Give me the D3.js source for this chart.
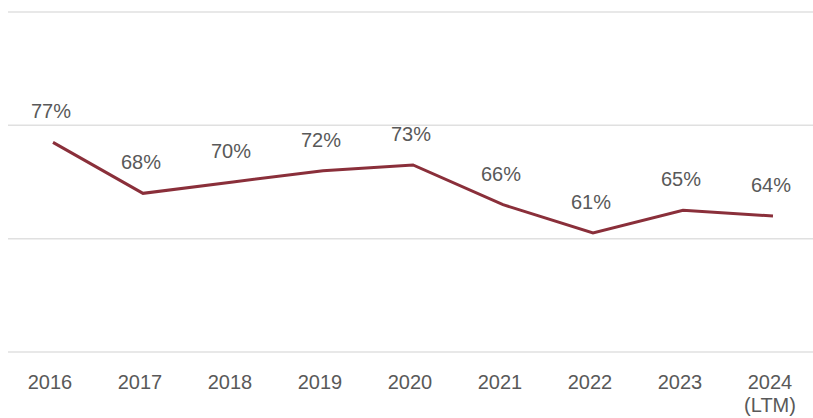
<!DOCTYPE html>
<html>
<head>
<meta charset="utf-8">
<script src="https://cdn.jsdelivr.net/npm/d3@7"></script>
<style>
  html, body { margin: 0; padding: 0; background: #ffffff; }
  svg { display: block; }
  text { font-family: "Liberation Sans", Arial, sans-serif; fill: #595959; }
</style>
</head>
<body>
<div id="chart"></div>
<script>
// Margin ratio by year, in percent
const years = ["2016", "2017", "2018", "2019", "2020", "2021", "2022", "2023", "2024"];
const yearSubLabels = ["", "", "", "", "", "", "", "", "(LTM)"];
const margins = [77, 68, 70, 72, 73, 66, 61, 65, 64];
const gridTicks = [40, 60, 80, 100];

const width = 813, height = 418;
const left = 8, right = 818;

const svg = d3.select("#chart").append("svg")
  .attr("width", width)
  .attr("height", height);

const x = d3.scaleBand()
  .domain(years)
  .range([left, right])
  .padding(0);

const y = d3.scaleLinear()
  .domain([40, 100])
  .range([352, 12]);

const cx = d => x(d) + x.bandwidth() / 2;

// Horizontal gridlines
svg.append("g")
  .selectAll("line")
  .data(gridTicks)
  .join("line")
  .attr("x1", left)
  .attr("x2", width)
  .attr("y1", d => y(d))
  .attr("y2", d => y(d))
  .attr("stroke", "#e0e0e0")
  .attr("stroke-width", 1.5);

// Year labels along the bottom
const xl = svg.append("g")
  .selectAll("text")
  .data(years)
  .join("text")
  .attr("x", d => cx(d) - 3)
  .attr("y", 389)
  .attr("text-anchor", "middle")
  .attr("font-size", 20)
  .text(d => d);

svg.append("g")
  .selectAll("text")
  .data(years.filter((d, i) => yearSubLabels[i]))
  .join("text")
  .attr("x", d => cx(d) - 3)
  .attr("y", 412)
  .attr("text-anchor", "middle")
  .attr("font-size", 20)
  .text(d => yearSubLabels[years.indexOf(d)]);

// Margin line
const line = d3.line()
  .x((d, i) => cx(years[i]))
  .y(d => y(d));

svg.append("path")
  .datum(margins)
  .attr("d", line)
  .attr("fill", "none")
  .attr("stroke", "#8a2f3a")
  .attr("stroke-width", 3)
  .attr("stroke-linejoin", "miter");

// Value labels above each point
svg.append("g")
  .selectAll("text")
  .data(margins)
  .join("text")
  .attr("x", (d, i) => cx(years[i]) - 2)
  .attr("y", d => y(d) - 24)
  .attr("text-anchor", "middle")
  .attr("font-size", 20)
  .text(d => d + "%");
</script>
</body>
</html>
